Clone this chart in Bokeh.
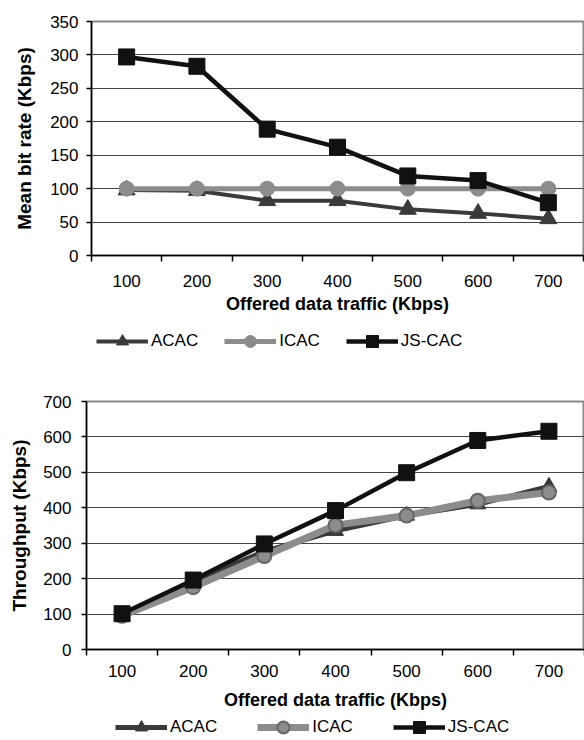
from bokeh.plotting import figure
from bokeh.models import FixedTicker, Legend, LegendItem, Range1d
from bokeh.embed import file_html
from bokeh.resources import INLINE

# ---- data ----
x_vals = [100, 200, 300, 400, 500, 600, 700]
series_names = ["ACAC", "ICAC", "JS-CAC"]

rate_acac = [98, 97, 82, 82, 69, 63, 55]
rate_icac = [100, 100, 100, 100, 100, 100, 100]
rate_js = [297, 283, 189, 162, 119, 112, 79]

thr_acac = [95, 192, 277, 335, 378, 410, 460]
thr_icac = [95, 176, 264, 351, 378, 420, 443]
thr_js = [101, 196, 298, 392, 499, 590, 616]

rate_ticks = [0, 50, 100, 150, 200, 250, 300, 350]
thr_ticks = [0, 100, 200, 300, 400, 500, 600, 700]

FONT = "Liberation Sans"
step = x_vals[1] - x_vals[0]
bounds = [x - step / 2 for x in x_vals] + [x_vals[-1] + step / 2]


def make_fig(width, height, b_left, b_right, b_top, b_bottom, ymax, yticks, ytitle,
             ys, styles, xlab_standoff, xtitle_standoff, ylab_standoff, ytitle_standoff):
    p = figure(width=width, height=height, output_backend="svg", toolbar_location=None,
               x_range=Range1d(bounds[0], bounds[-1]), y_range=Range1d(0, ymax),
               min_border_left=b_left, min_border_right=b_right,
               min_border_top=b_top, min_border_bottom=b_bottom)
    p.outline_line_color = "#888888"
    p.outline_line_width = 2
    p.xgrid.visible = False
    p.ygrid.grid_line_color = "#444444"
    p.ygrid.grid_line_width = 1
    p.ygrid.ticker = FixedTicker(ticks=yticks)

    xa = p.xaxis[0]
    xa.ticker = FixedTicker(ticks=x_vals, minor_ticks=bounds)
    xa.major_tick_out = 0
    xa.major_tick_in = 0
    xa.minor_tick_out = 6
    xa.minor_tick_in = 0
    xa.minor_tick_line_color = "black"
    xa.minor_tick_line_width = 1.5
    xa.axis_line_color = "black"
    xa.axis_line_width = 1.5
    xa.major_label_text_font = FONT
    xa.major_label_text_font_size = "17px"
    xa.major_label_text_color = "black"
    xa.major_label_standoff = xlab_standoff
    xa.axis_label = "Offered data traffic (Kbps)"
    xa.axis_label_text_font = FONT
    xa.axis_label_text_font_size = "18px"
    xa.axis_label_text_font_style = "bold"
    xa.axis_label_text_color = "black"
    xa.axis_label_standoff = xtitle_standoff

    ya = p.yaxis[0]
    ya.ticker = FixedTicker(ticks=yticks)
    ya.minor_tick_line_color = None
    ya.major_tick_out = 5
    ya.major_tick_in = 0
    ya.major_tick_line_color = "black"
    ya.major_tick_line_width = 1.5
    ya.axis_line_color = "black"
    ya.axis_line_width = 1.5
    ya.major_label_text_font = FONT
    ya.major_label_text_font_size = "17px"
    ya.major_label_text_color = "black"
    ya.major_label_standoff = ylab_standoff
    ya.axis_label = ytitle
    ya.axis_label_text_font = FONT
    ya.axis_label_text_font_size = "19px"
    ya.axis_label_text_font_style = "bold"
    ya.axis_label_text_color = "black"
    ya.axis_label_standoff = ytitle_standoff

    for yv, st in zip(ys, styles):
        p.line(x_vals, yv, line_color=st["color"], line_width=st["lw"])
        p.scatter(x_vals, yv, marker=st["marker"], size=st["size"],
                  fill_color=st["fill"], line_color=st["mline"], line_width=st["mlw"])
    return p


def make_legend_fig(width, height, ys, styles, loc, spacing):
    # the series are drawn here outside the visible range; only the legend shows
    lf = figure(width=width, height=height, output_backend="svg", toolbar_location=None,
                x_range=Range1d(0, 1), y_range=Range1d(0, 1),
                x_axis_location=None, y_axis_location=None, min_border=0)
    lf.grid.visible = False
    lf.outline_line_color = None
    items = []
    for name, yv, st in zip(series_names, ys, styles):
        ln = lf.line(x_vals, yv, line_color=st["color"], line_width=st["lw"])
        sc = lf.scatter(x_vals, yv, marker=st["marker"], size=st["size"],
                        fill_color=st["fill"], line_color=st["mline"], line_width=st["mlw"])
        items.append(LegendItem(label=name, renderers=[ln, sc]))
    leg = Legend(items=items, orientation="horizontal", location=loc,
                 glyph_width=52, glyph_height=30, label_standoff=3, spacing=spacing,
                 padding=0, margin=0, border_line_color=None, background_fill_alpha=0,
                 label_text_font=FONT, label_text_font_size="17px", label_text_color="black")
    lf.add_layout(leg, "center")
    return lf


styles_top = [
    dict(color="#3a3a3a", lw=4, marker="triangle", size=17, fill="#3a3a3a", mline="#3a3a3a", mlw=1),
    dict(color="#8c8c8c", lw=5, marker="circle", size=15, fill="#8c8c8c", mline="#8c8c8c", mlw=1),
    dict(color="#111111", lw=4.5, marker="square", size=16, fill="#111111", mline="#111111", mlw=1),
]
styles_bot = [
    dict(color="#3a3a3a", lw=5, marker="triangle", size=16, fill="#3a3a3a", mline="#3a3a3a", mlw=1),
    dict(color="#8c8c8c", lw=7, marker="circle", size=14, fill="#8c8c8c", mline="#666666", mlw=2),
    dict(color="#111111", lw=4.5, marker="square", size=16, fill="#111111", mline="#111111", mlw=1),
]

p1 = make_fig(584, 318, 91, 1, 21, 63, 350, rate_ticks, "Mean bit rate (Kbps)",
              [rate_acac, rate_icac, rate_js], styles_top, 13, 4, 8, 12)
l1 = make_legend_fig(584, 38, [rate_acac, rate_icac, rate_js], styles_top, (96, 0), 26)
p2 = make_fig(584, 356, 86, 0, 45, 63, 700, thr_ticks, "Throughput (Kbps)",
              [thr_acac, thr_icac, thr_js], styles_bot, 9, 10, 10, 10)
l2 = make_legend_fig(584, 26, [thr_acac, thr_icac, thr_js], styles_bot, (115, -4), 40)

open("out.html", "w").write(file_html([p1, l1, p2, l2], INLINE))
